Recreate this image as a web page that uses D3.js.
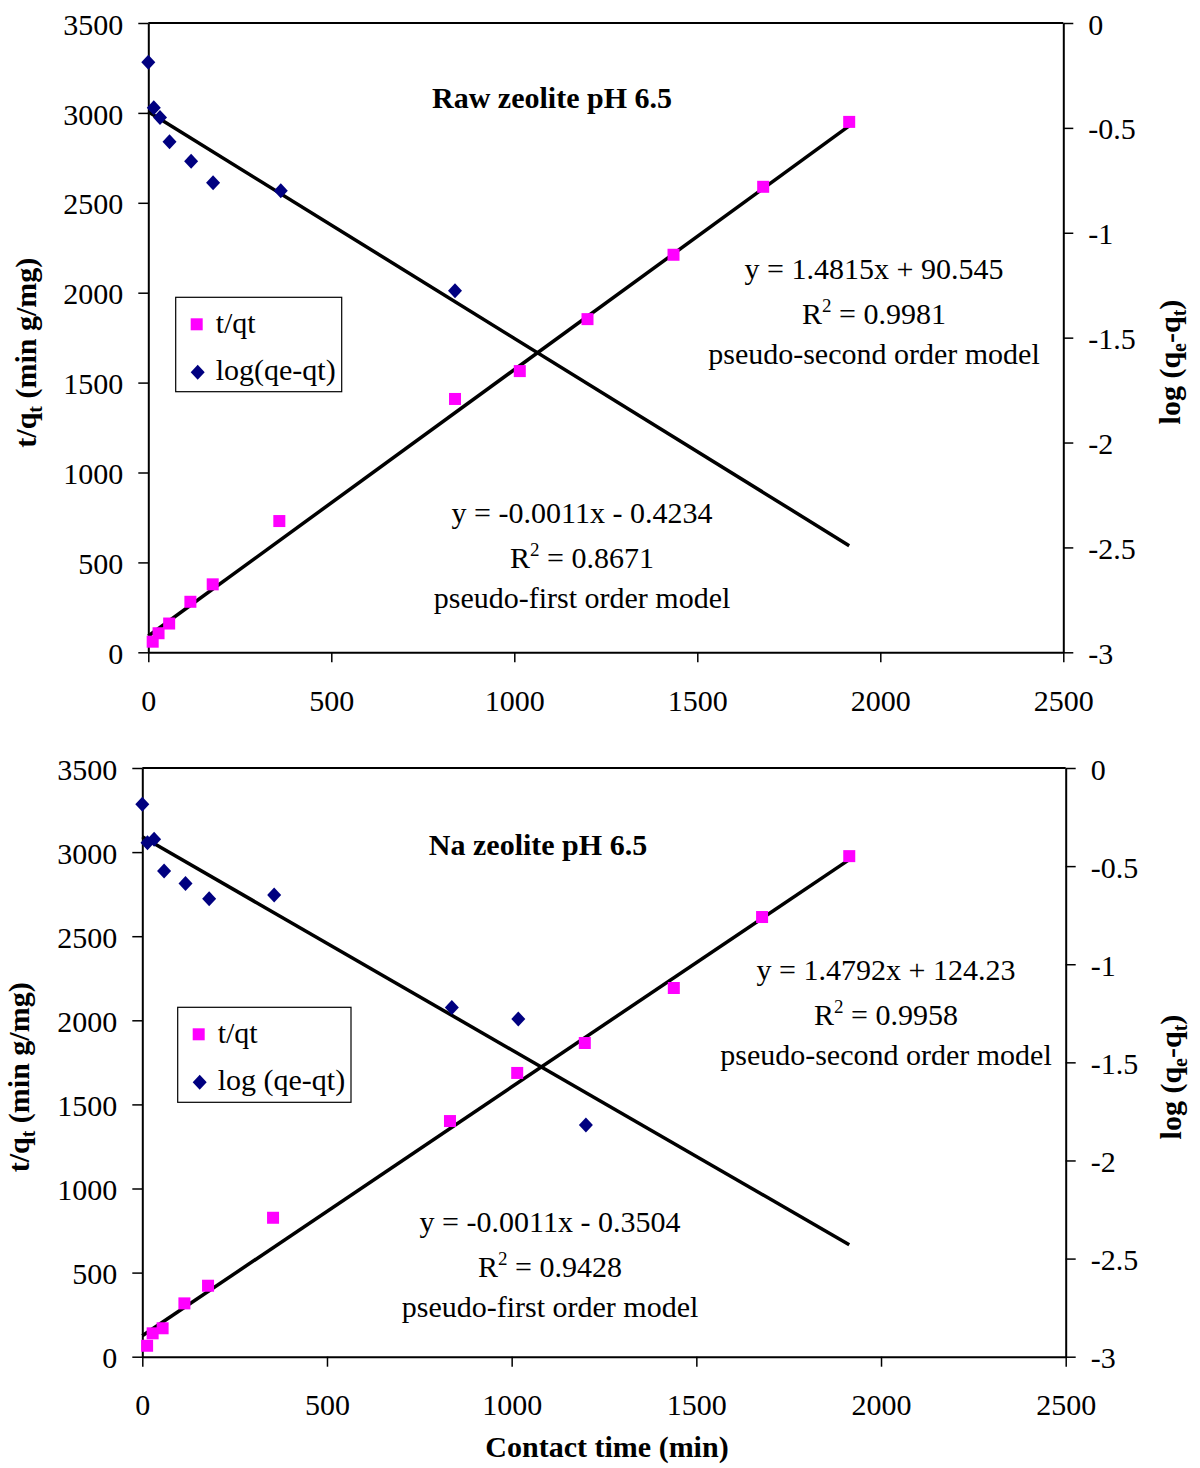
<!DOCTYPE html>
<html>
<head>
<meta charset="utf-8">
<script src="https://cdn.jsdelivr.net/npm/d3@7"></script>
<style>
  html, body { margin: 0; padding: 0; background: #fff; }
  svg { display: block; }
  text { font-family: "Liberation Serif", "Times New Roman", serif; fill: #000; }
</style>
</head>
<body>
<svg id="chart"></svg>
<script>
// ---- data ----
const rawTime = [12, 28, 57, 115, 176, 358, 838, 1015, 1200, 1435, 1680, 1915];
const rawTq = [59, 106, 160, 281, 378, 730, 1409, 1564, 1853, 2211, 2589, 2950];
const rawLogTime = [0, 15, 32, 58, 117, 177, 362, 838];
const rawLog = [-0.187, -0.404, -0.45, -0.566, -0.659, -0.761, -0.8, -1.277];

const naTime = [13, 28, 55, 114, 178, 354, 833, 1015, 1198, 1439, 1678, 1914];
const naTq = [65, 139, 169, 317, 422, 826, 1401, 1687, 1865, 2192, 2614, 2976];
const naLogTime = [0, 14, 32, 59, 117, 181, 357, 838, 1018, 1201];
const naLog = [-0.185, -0.381, -0.363, -0.525, -0.588, -0.666, -0.647, -1.22, -1.279, -1.819];

// trend lines: [slope, intercept]
const rawSecondFit = [1.4815, 90.545];
const rawFirstFit = [-0.00108, -0.4234];
const naSecondFit = [1.4792, 124.23];
const naFirstFit = [-0.001086, -0.3504];

const xTicks = [0, 500, 1000, 1500, 2000, 2500];
const leftTicks = [0, 500, 1000, 1500, 2000, 2500, 3000, 3500];
const rightTicks = [0, -0.5, -1, -1.5, -2, -2.5, -3];

const width = 1200;
const height = 1468;
const pink = "#ff00ff";
const navy = "#000080";
const diamond = "M0,-7.5L7,0L0,7.5L-7,0Z";

const svg = d3.select("#chart").attr("width", width).attr("height", height);

function drawPanel(p) {
  const x = d3.scaleLinear().domain([0, 2500]).range([p.left, p.right]);
  const yL = d3.scaleLinear().domain([0, 3500]).range([p.bottom, p.top]);
  const yR = d3.scaleLinear().domain([-3, 0]).range([p.bottom, p.top]);

  const g = svg.append("g");

  // top frame line
  g.append("line")
    .attr("x1", p.left).attr("x2", p.right)
    .attr("y1", p.top).attr("y2", p.top)
    .attr("stroke", "#000").attr("stroke-width", 2);

  const ax = g.append("g")
    .attr("transform", `translate(0,${p.bottom})`)
    .call(d3.axisBottom(x).tickValues(xTicks).tickSize(10).tickSizeOuter(0).tickFormat(d3.format("d")));
  ax.selectAll("text").attr("y", 37).attr("dy", "0.71em");

  const al = g.append("g")
    .attr("transform", `translate(${p.left},0)`)
    .call(d3.axisLeft(yL).tickValues(leftTicks).tickSize(10).tickPadding(15).tickSizeOuter(0).tickFormat(d3.format("d")));
  al.selectAll("text").attr("dy", "0.37em");

  const ar = g.append("g")
    .attr("transform", `translate(${p.right},0)`)
    .call(d3.axisRight(yR).tickValues(rightTicks).tickSize(10).tickPadding(15).tickSizeOuter(0).tickFormat(d => String(d)));
  ar.selectAll("text").attr("dy", "0.37em");

  [ax, al, ar].forEach(a => {
    a.selectAll("text").style("font-size", "30px").style("font-family", '"Liberation Serif", serif').attr("fill", "#000");
    a.select(".domain").attr("stroke-width", 2);
    a.selectAll(".tick line").attr("stroke-width", 1.5);
  });

  // trend lines
  const xEnd = d3.max(p.time);
  const line = d3.line();
  g.append("path")
    .attr("d", line([[x(0), yL(p.second[1])], [x(xEnd), yL(p.second[0] * xEnd + p.second[1])]]))
    .attr("stroke", "#000").attr("stroke-width", 3.5).attr("fill", "none");
  g.append("path")
    .attr("d", line([[x(0), yR(p.first[1])], [x(xEnd), yR(p.first[0] * xEnd + p.first[1])]]))
    .attr("stroke", "#000").attr("stroke-width", 3.5).attr("fill", "none");

  // t/qt squares
  g.append("g").selectAll("rect")
    .data(d3.zip(p.time, p.tq))
    .join("rect")
    .attr("x", d => x(d[0]) - 6)
    .attr("y", d => yL(d[1]) - 6)
    .attr("width", 12).attr("height", 12)
    .attr("fill", pink);

  // log(qe-qt) diamonds
  g.append("g").selectAll("path")
    .data(d3.zip(p.logTime, p.log))
    .join("path")
    .attr("transform", d => `translate(${x(d[0])},${yR(d[1])})`)
    .attr("d", diamond)
    .attr("fill", navy);

  // chart title
  g.append("text")
    .attr("x", p.titleX).attr("y", p.titleY)
    .attr("text-anchor", "middle")
    .style("font-size", "30px").style("font-weight", "bold")
    .text(p.title);

  // equations
  function equation(cx, y0, eq, r2, model) {
    const t = g.append("g").style("font-size", "30px");
    t.append("text").attr("x", cx).attr("y", y0).attr("text-anchor", "middle").text(eq);
    const r = t.append("text").attr("x", cx).attr("y", y0 + 45).attr("text-anchor", "middle");
    r.append("tspan").text("R");
    r.append("tspan").attr("dy", -12).style("font-size", "19px").text("2");
    r.append("tspan").attr("dy", 12).text(" = " + r2);
    t.append("text").attr("x", cx).attr("y", y0 + 85).attr("text-anchor", "middle").text(model);
  }
  equation(p.eq2[0], p.eq2[1], p.eq2Text, p.r2Second, "pseudo-second order model");
  equation(p.eq1[0], p.eq1[1], p.eq1Text, p.r2First, "pseudo-first order model");

  // legend
  const lg = g.append("g");
  lg.append("rect")
    .attr("x", p.legend[0]).attr("y", p.legend[1])
    .attr("width", p.legend[2]).attr("height", p.legend[3])
    .attr("fill", "#fff").attr("stroke", "#000").attr("stroke-width", 1.2);
  const lx = p.legend[0] + 21;
  const ly1 = p.legend[1] + 27;
  const ly2 = p.legend[1] + 75;
  lg.append("rect").attr("x", lx - 6).attr("y", ly1 - 6).attr("width", 12).attr("height", 12).attr("fill", pink);
  lg.append("path").attr("transform", `translate(${lx + 1},${ly2})`).attr("d", diamond).attr("fill", navy);
  lg.append("text").attr("x", lx + 19).attr("y", ly1 + 9).style("font-size", "30px").text("t/qt");
  lg.append("text").attr("x", lx + 19).attr("y", ly2 + 8).style("font-size", "30px").text(p.logLabel);

  // left axis title
  const lt = g.append("text")
    .attr("transform", `translate(${p.leftTitleX},${(p.top + p.bottom) / 2 + 15}) rotate(-90)`)
    .attr("text-anchor", "middle")
    .style("font-size", "30px").style("font-weight", "bold");
  lt.append("tspan").text("t/q");
  lt.append("tspan").attr("dy", 6).style("font-size", "20px").text("t");
  lt.append("tspan").attr("dy", -6).text(" (min g/mg)");

  // right axis title
  const rt = g.append("text")
    .attr("transform", `translate(${p.rightTitleX},${p.rightTitleY}) rotate(-90)`)
    .attr("text-anchor", "middle")
    .style("font-size", "30px").style("font-weight", "bold");
  rt.append("tspan").text("log (q");
  rt.append("tspan").attr("dy", 6).style("font-size", "20px").text("e");
  rt.append("tspan").attr("dy", -6).text("-q");
  rt.append("tspan").attr("dy", 6).style("font-size", "20px").text("t");
  rt.append("tspan").attr("dy", -6).text(")");
}

drawPanel({
  left: 148.3, right: 1063.3, top: 23, bottom: 652.3,
  time: rawTime, tq: rawTq, logTime: rawLogTime, log: rawLog,
  second: rawSecondFit, first: rawFirstFit,
  title: "Raw zeolite pH 6.5", titleX: 552, titleY: 108,
  eq2: [874, 279], eq2Text: "y = 1.4815x + 90.545", r2Second: "0.9981",
  eq1: [582, 523], eq1Text: "y = -0.0011x - 0.4234", r2First: "0.8671",
  legend: [175.7, 297.3, 166, 94.4], logLabel: "log(qe-qt)",
  leftTitleX: 36, rightTitleX: 1180, rightTitleY: 362
});

drawPanel({
  left: 142.3, right: 1065.7, top: 768, bottom: 1356.7,
  time: naTime, tq: naTq, logTime: naLogTime, log: naLog,
  second: naSecondFit, first: naFirstFit,
  title: "Na zeolite pH 6.5", titleX: 538, titleY: 855,
  eq2: [886, 980], eq2Text: "y = 1.4792x + 124.23", r2Second: "0.9958",
  eq1: [550, 1232], eq1Text: "y = -0.0011x - 0.3504", r2First: "0.9428",
  legend: [177.7, 1007.3, 173.3, 95], logLabel: "log (qe-qt)",
  leftTitleX: 28.5, rightTitleX: 1181, rightTitleY: 1077
});

// x axis title
svg.append("text")
  .attr("x", 607).attr("y", 1457)
  .attr("text-anchor", "middle")
  .style("font-size", "30px").style("font-weight", "bold")
  .text("Contact time (min)");
</script>
</body>
</html>
